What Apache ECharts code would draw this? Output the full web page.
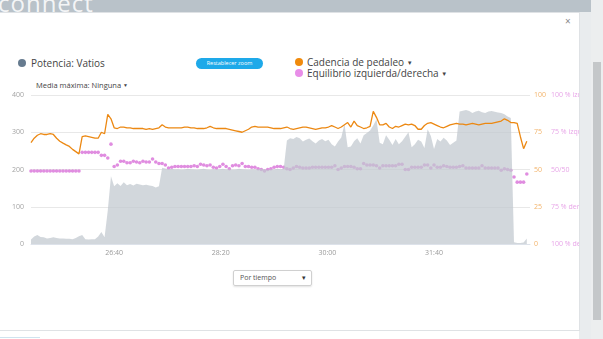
<!DOCTYPE html>
<html><head><meta charset="utf-8">
<script src="https://cdn.jsdelivr.net/npm/echarts@6/dist/echarts.min.js"></script>
<style>
html,body{margin:0;padding:0;width:603px;height:339px;overflow:hidden;background:#fff;font-family:"Open Sans",sans-serif;}
#topband{position:absolute;left:0;top:0;width:603px;height:13px;background:#b9c2c9;overflow:hidden;}
#logo{position:absolute;left:-2px;top:-14px;color:rgba(255,255,255,0.85);font-size:24px;letter-spacing:1px;}
#side{position:absolute;left:579px;top:12px;width:24px;height:327px;background:#e9ecee;}
#track{position:absolute;left:591px;top:0;width:12px;height:339px;background:#eceeef;}
#thumb{position:absolute;left:593px;top:62px;width:8px;height:258px;background:#c4c7c9;}
#modal{position:absolute;left:-1px;top:12px;width:581px;height:319px;background:#fff;border:1px solid #dfe2e5;box-sizing:border-box;}
#chart{position:absolute;left:0;top:0;width:579px;height:339px;}
.dot{position:absolute;width:8px;height:8px;border-radius:50%;}
.lt{position:absolute;font-size:10px;color:#444;white-space:nowrap;line-height:12px;}
.car{font-size:6px;vertical-align:1px;}
#btn{position:absolute;left:196px;top:58px;width:67px;height:11px;border-radius:6px;background:#1ea9e9;color:#fff;font-size:5.5px;line-height:11px;text-align:center;}
#media{position:absolute;left:36px;top:80px;font-size:7.5px;color:#444;white-space:nowrap;}
#close{position:absolute;left:565px;top:14px;font-size:10px;color:#888;}
#sel{position:absolute;left:233px;top:270px;width:79px;height:16px;border:1px solid #d0d0d0;border-radius:2px;box-shadow:0 1px 2px rgba(0,0,0,0.12);box-sizing:border-box;font-size:7px;color:#555;line-height:14px;padding-left:6px;}
#sel span{position:absolute;right:5px;top:0;font-size:7px;color:#333;}
#foot{position:absolute;left:0;top:337px;width:40px;height:1px;background:#cfe3ef;}
</style></head><body>
<div id="topband"><div id="logo">connect</div></div>
<div id="side"></div><div id="track"></div><div id="thumb"></div>
<div id="modal"></div>
<div id="foot"></div>
<div id="close">×</div>
<div class="dot" style="left:18px;top:59px;background:#667b8f"></div>
<div class="lt" style="left:31px;top:57px">Potencia: Vatios</div>
<div id="btn">Restablecer zoom</div>
<div class="dot" style="left:295px;top:58px;background:#f08a0c"></div>
<div class="lt" style="left:307px;top:56px">Cadencia de pedaleo <span class="car">▼</span></div>
<div class="dot" style="left:295px;top:69px;background:#e88ee8"></div>
<div class="lt" style="left:307px;top:67px">Equilibrio izquierda/derecha <span class="car">▼</span></div>
<div id="media">Media máxima: Ninguna <span style="font-size:5px;vertical-align:1px">▼</span></div>
<div id="sel">Por tiempo<span>▾</span></div>
<div id="chart"></div>
<script>
// time (seconds) of first sample and sample step
const startSec = 1522;
const stepSec = 3;
const tickSeconds = [1600, 1700, 1800, 1900];
const tickLabels = ['26:40', '28:20', '30:00', '31:40'];
const balanceLabels = ['100 % derecha', '75 % derecha', '50/50', '75 % izquierda', '100 % izquierda'];

const power = [
 12,20,24,19,18,15,16,18,16,15,
 15,14,14,13,16,21,24,13,12,13,
 13,20,32,18,90,182,155,163,156,166,
 158,161,157,162,160,158,159,157,156,152,
 155,205,203,201,202,200,201,199,200,202,
 201,200,199,201,202,200,199,201,200,201,
 202,200,201,199,200,202,201,200,199,201,
 200,201,202,200,199,201,200,202,201,202,
 278,284,282,287,284,275,280,283,276,270,
 278,282,276,280,268,262,275,286,322,260,
 262,276,284,270,292,298,305,318,335,272,
 268,292,280,266,282,268,276,288,300,260,
 268,280,275,258,308,290,255,282,275,285,
 278,266,272,278,356,358,360,357,352,356,
 358,354,352,356,357,355,353,352,348,342,
 338,5,3,3,4,15
];
const cadence = [
 68,71,73,74,73.5,73.5,74,73.5,71,69,
 67.7,66.5,65.5,63.5,62,60.5,72,72.5,72,71.5,
 71,71,75,74,87,84,78,77.5,78.5,78.5,
 78,78,77.5,77.5,77.5,77.5,77,77.5,77,77.5,
 78,80,78.5,78,78,78,78,78,78.5,78.5,
 78,78,77.5,77.5,77.5,78,79,78,77.5,77.5,
 77.5,77.5,77,76.5,76,75.5,75,76,77,78.5,
 79,78.5,78.5,78.5,78.5,78,77.5,77.5,77.5,78,
 78.5,77.5,77,77.5,78,78.5,78.5,78,77.5,77,
 77.5,78,78,78.5,79.5,78.5,77.5,78.5,80,81.5,
 78.5,82.5,79.5,78.5,77.5,78,79,89,85,80,
 80,81,78.5,77.5,79,78.5,79.5,80.5,80,80.5,
 79.5,77,77,79.5,81,81.5,80.5,79.5,78.5,78,
 79,80,80.5,81,80.5,80.5,80,80.5,81,80.5,
 80,80.5,81,81,81,81.5,82,82.5,84,83,
 81.5,81.5,81,72,64,69
];
const balance = [
 49,49,49,49,49,49,49,49,49,49,
 49,49,49,49,49,49,61.5,61.5,61.5,61.5,
 61.5,61.5,59.5,59.5,57.7,67,52,53,55.5,55.5,
 54.5,54.5,55.5,55,54.5,55.5,55,55,57,55,
 54,54,53,51,51.5,52,52,52,52,52,
 52,52.5,52,53.5,53,52.5,53,51.5,51,52,
 53.5,52,50.5,52.5,53,52.5,54,52,52,51.5,
 51.5,50.5,50,49,50,50.5,51.5,52,52,51.5,
 50.5,50,51,52,51.5,51,51,51,51.5,51.5,
 51.5,51.5,51.5,51.5,51.5,52.5,50,51,52,52,
 52,51.5,50.5,50.5,54,53,53,53,52.5,51,
 52.5,52.5,52.5,52.5,52.5,53.5,53.5,50,50,51.5,
 51.5,51.5,51.5,53,53,51,53,51.5,51.5,52.5,
 52,51.5,51.5,51.5,52,52.5,51,51,51,51,
 51,52.5,51,51,51,51,51,49.5,50.5,50,
 49.5,45,41.5,41.5,41.5,47
];

const pair = arr => arr.map((v, i) => [startSec + i * stepSec, v]);

const chart = echarts.init(document.getElementById('chart'), null, {renderer: 'canvas'});
const lab = {fontFamily: 'Open Sans', fontSize: 7};
chart.setOption({
  animation: false,
  grid: {left: 31, top: 95, width: 499, height: 149, outerBoundsMode: 'none', containLabel: false},
  xAxis: {
    type: 'value', min: 1522, max: 1990,
    splitLine: {show: false},
    axisLine: {show: true, lineStyle: {color: '#dde2ea'}},
    axisTick: {show: false},
    axisLabel: Object.assign({}, lab, {
      color: '#9a9a9a', margin: 5, customValues: tickSeconds,
      formatter: v => tickLabels[tickSeconds.indexOf(v)] || ''
    })
  },
  yAxis: [
    {type: 'value', min: 0, max: 400, interval: 100, position: 'left',
     axisLine: {show: false}, axisTick: {show: false},
     splitLine: {lineStyle: {color: '#e8e8e8'}},
     axisLabel: Object.assign({}, lab, {color: '#a3a3a3', margin: 7})},
    {type: 'value', min: 0, max: 100, interval: 25, position: 'right',
     axisLine: {show: false}, axisTick: {show: false}, splitLine: {show: false},
     axisLabel: Object.assign({}, lab, {color: '#f2b36a', margin: 4})},
    {type: 'value', min: 0, max: 100, interval: 25, position: 'right', offset: 18,
     axisLine: {show: false}, axisTick: {show: false}, splitLine: {show: false},
     axisLabel: Object.assign({}, lab, {color: '#e8a6e8', margin: 3,
       formatter: v => balanceLabels[Math.round(v / 25)]})}
  ],
  series: [
    {name: 'Potencia: Vatios', type: 'line', yAxisIndex: 0, data: pair(power),
     symbol: 'none', lineStyle: {width: 0}, itemStyle: {color: '#cfd4da'},
     areaStyle: {color: 'rgba(192,199,206,0.72)', opacity: 1}},
    {name: 'Cadencia de pedaleo', type: 'line', yAxisIndex: 1, data: pair(cadence),
     symbol: 'none', lineStyle: {width: 1.3, color: '#ec8812'}, itemStyle: {color: '#ec8812'}},
    {name: 'Equilibrio izquierda/derecha', type: 'scatter', yAxisIndex: 2, data: pair(balance),
     symbol: 'circle', symbolSize: 3.6, itemStyle: {color: '#d870d8'}}
  ]
});
</script>
</body></html>
